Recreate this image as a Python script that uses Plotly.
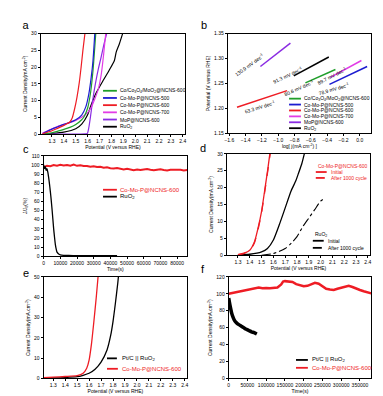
import plotly.graph_objects as go

W, H = 383, 396
FONT = "Arial, Liberation Sans, sans-serif"

GREEN = "#1f9e2a"
BLUE = "#1c1cd0"
RED = "#ee1c24"
MAGENTA = "#e23ce6"
PURPLE = "#8a2be2"
BLACK = "#000000"

# ---------------- panel a: LSV ----------------
a_green_x = [1.23, 1.30, 1.35, 1.40, 1.45, 1.50, 1.55, 1.57, 1.60, 1.625, 1.645, 1.668]
a_green_y = [0.0, 0.4, 0.9, 1.4, 2.0, 2.9, 4.3, 5.2, 7.8, 12.5, 19.0, 30.0]
a_blue_x = [1.23, 1.30, 1.35, 1.40, 1.45, 1.50, 1.55, 1.585, 1.61, 1.63, 1.645, 1.66]
a_blue_y = [0.3, 1.5, 2.2, 2.9, 3.5, 4.3, 5.7, 8.2, 12.0, 17.0, 22.0, 30.0]
a_red_x = [1.22, 1.30, 1.35, 1.40, 1.45, 1.47, 1.49, 1.51, 1.53, 1.545, 1.56, 1.577]
a_red_y = [0.1, 1.0, 1.8, 2.6, 3.6, 4.8, 7.5, 11.0, 15.5, 20.0, 25.0, 30.0]
a_mag_x = [1.22, 1.30, 1.35, 1.40, 1.45, 1.50, 1.55, 1.60, 1.63, 1.66, 1.69, 1.715, 1.735, 1.752]
a_mag_y = [0.3, 1.6, 2.3, 2.9, 3.4, 4.1, 5.0, 6.4, 8.0, 10.5, 13.5, 18.0, 24.0, 30.0]
a_pur_x = [1.22, 1.30, 1.40, 1.50, 1.58, 1.597, 1.61, 1.625, 1.64, 1.655, 1.67, 1.69, 1.71, 1.735, 1.76]
a_pur_y = [0.0, 0.0, 0.0, 0.0, 0.05, 0.2, 2.0, 5.5, 9.5, 13.0, 16.0, 19.5, 22.5, 26.5, 30.0]
a_blk_x = [1.22, 1.30, 1.40, 1.50, 1.55, 1.60, 1.63, 1.67, 1.73, 1.78, 1.825, 1.84, 1.867, 1.894]
a_blk_y = [0.0, 0.2, 0.6, 1.6, 3.0, 5.8, 8.8, 12.2, 16.0, 19.0, 22.0, 24.5, 27.0, 30.0]

a_names = ["Co/Co<sub>3</sub>O<sub>4</sub>/MoO<sub>2</sub>@NCNS-600", "Co-Mo-P@NCNS-500",
           "Co-Mo-P@NCNS-600", "Co-Mo-P@NCNS-700", "MoP@NCNS-600", "RuO<sub>2</sub>"]

# ---------------- panel b: Tafel ----------------
b_green_x = [-0.667, -0.299]; b_green_y = [1.251, 1.278]
b_blue_x = [-0.372, 0.09];   b_blue_y = [1.248, 1.284]
b_red_x = [-1.506, -0.892];  b_red_y = [1.202, 1.2355]
b_mag_x = [-0.36, 0.02];     b_mag_y = [1.262, 1.296]
b_pur_x = [-1.219, -0.851];  b_pur_y = [1.284, 1.331]
b_blk_x = [-0.81, -0.38];    b_blk_y = [1.265, 1.303]
b_slopes = ["130.9 mV dec<sup>-1</sup>", "91.3 mV dec<sup>-1</sup>", "80.6 mV dec<sup>-1</sup>",
            "89.7 mV dec<sup>-1</sup>", "78.9 mV dec<sup>-1</sup>", "63.3 mV dec<sup>-1</sup>"]

# ---------------- panel c: stability ----------------
c_red_t = [0, 2000, 4000, 6000, 8000, 10000, 12000, 14000, 16000, 18000, 20000, 22000, 24000,
           26000, 28000, 30000, 32000, 34000, 36000, 38000, 40000, 42000, 44000, 46000, 48000,
           50000, 52000, 54000, 56000, 58000, 60000, 62000, 64000, 66000, 68000, 70000, 72000,
           74000, 76000, 78000, 80000, 82000, 84000, 86000]
c_red_v = [97.5, 99.0, 98.6, 99.8, 99.2, 100.1, 99.4, 99.9, 99.1, 100.3, 99.0, 99.6, 98.7,
           98.9, 97.9, 98.4, 97.6, 97.9, 96.9, 97.3, 96.4, 96.0, 96.6, 95.5, 95.1,
           95.8, 94.8, 94.3, 95.0, 94.4, 94.9, 95.4, 94.6, 94.1, 94.8, 95.2, 94.5,
           94.0, 94.7, 94.9, 94.3, 94.6, 94.0, 94.4]
c_blk_t = [0, 500, 1000, 1500, 2000, 2500, 3000, 3500, 4000, 4500, 5000, 5500, 6000, 6500,
           7000, 7500, 8000, 9000, 10000, 12000, 15000, 20000, 30000, 44000]
c_blk_v = [100, 96, 98, 94, 96, 92, 86, 79, 71, 62, 52, 41, 30, 21,
           13, 8, 4.5, 2.5, 1.5, 1.0, 0.8, 0.6, 0.5, 0.5]

# ---------------- panel d: durability LSV ----------------
d_red_x = [1.30, 1.35, 1.40, 1.44, 1.47, 1.50, 1.53, 1.555, 1.57]
d_red_y = [0.2, 0.6, 1.5, 4.0, 8.0, 13.0, 20.0, 26.0, 30.0]
d_red2_x = [1.30, 1.35, 1.40, 1.44, 1.47, 1.50, 1.53, 1.555, 1.573]
d_red2_y = [0.2, 0.5, 1.3, 3.7, 7.6, 12.6, 19.5, 25.5, 30.0]
d_blk_x = [1.30, 1.40, 1.50, 1.55, 1.60, 1.65, 1.70, 1.75, 1.79, 1.81, 1.84, 1.862]
d_blk_y = [0.1, 0.3, 1.0, 2.0, 4.5, 9.0, 14.0, 19.0, 22.0, 24.0, 27.0, 30.0]
d_blk2_x = [1.50, 1.60, 1.70, 1.75, 1.80, 1.85, 1.90, 1.95, 2.00, 2.02]
d_blk2_y = [0.0, 0.5, 2.0, 3.5, 5.5, 8.5, 11.0, 13.5, 16.0, 16.5]

# ---------------- panel e: overall water splitting LSV ----------------
e_red_x = [1.22, 1.30, 1.40, 1.50, 1.55, 1.58, 1.60, 1.62, 1.64, 1.66, 1.675]
e_red_y = [0.3, 0.6, 0.9, 1.3, 2.5, 5.0, 9.0, 17.0, 28.0, 40.0, 50.0]
e_blk_x = [1.22, 1.30, 1.40, 1.50, 1.55, 1.60, 1.65, 1.70, 1.75, 1.78, 1.80, 1.82, 1.84, 1.845]
e_blk_y = [0.1, 0.2, 0.4, 0.8, 1.5, 2.5, 4.5, 8.0, 14.0, 21.0, 28.0, 37.0, 47.0, 50.0]

# ---------------- panel f: chronoamperometry ----------------
f_red_t = [0, 10000, 20000, 30000, 40000, 50000, 60000, 70000, 80000, 90000, 100000, 110000,
           120000, 130000, 140000, 145000, 150000, 160000, 170000, 180000, 190000, 200000,
           210000, 220000, 230000, 240000, 250000, 260000, 270000, 280000, 290000, 300000,
           310000, 320000, 330000, 340000, 350000, 360000, 370000, 380000]
f_red_v = [100.0, 101.0, 101.5, 102.5, 103.5, 105.0, 106.0, 107.0, 107.5, 106.5, 107.0, 106.5,
           106.8, 107.5, 111.0, 114.5, 115.0, 114.5, 114.0, 111.5, 110.0, 109.0,
           109.5, 111.0, 113.0, 112.0, 108.5, 106.0, 105.0, 104.5, 106.0, 107.0,
           108.5, 109.5, 108.0, 106.0, 104.5, 103.0, 101.5, 100.5]
f_blk_t = [0, 2000, 5000, 8000, 11000, 15000, 20000, 27000, 33000, 40000, 47000, 54000, 61000, 68000, 75000]
f_blk_v = [95, 90, 83, 77, 73, 69, 66, 63.5, 62, 60, 58, 56.5, 55, 54, 52.5]

legend_ef = ["Pt/C || RuO<sub>2</sub>", "Co-Mo-P@NCNS-600"]

# ---------------- layout helpers ----------------
panels = {  # pixel boxes: left, right, top, bottom
    "a": (30, 176, 23, 125),
    "b": (219, 364, 23, 124),
    "c": (33, 178, 147, 249),
    "d": (218, 363, 145, 248),
    "e": (33, 178, 270, 373),
    "f": (220, 364, 270, 373),
}


def px(x):
    return x / W


def py(y):
    return 1 - y / H


fig = go.Figure()
shapes = []
annotations = []

axis_ids = {"a": "", "b": "2", "c": "3", "d": "4", "e": "5", "f": "6"}


def add_line(panel, x, y, color, width=1.2, dash="solid", name=None, shape="spline"):
    i = axis_ids[panel]
    line = dict(color=color, width=width, dash=dash, shape=shape)
    if shape == "spline":
        line["smoothing"] = 0.6
    fig.add_trace(go.Scatter(x=x, y=y, mode="lines", name=name, showlegend=False, line=line,
                             xaxis="x" + i, yaxis="y" + i, hoverinfo="skip"))


def key(x0, x1, y, color, text, textcolor="black", dash="solid", width=1.8, tx=None, size=5):
    if x1 > x0:
        shapes.append(dict(type="line", xref="paper", yref="paper", x0=px(x0), x1=px(x1),
                           y0=py(y), y1=py(y), line=dict(color=color, width=width, dash=dash)))
    annotations.append(dict(text=text, x=px(tx if tx is not None else x1 + 2), y=py(y),
                            xref="paper", yref="paper", showarrow=False, xanchor="left",
                            yanchor="middle", font=dict(size=size, color=textcolor, family=FONT)))


# panel a
for xs, ys, c in [(a_blk_x, a_blk_y, BLACK), (a_pur_x, a_pur_y, PURPLE), (a_mag_x, a_mag_y, MAGENTA),
                  (a_green_x, a_green_y, GREEN), (a_blue_x, a_blue_y, BLUE), (a_red_x, a_red_y, RED)]:
    add_line("a", xs, ys, c, 1.2)
for k, (nm, c) in enumerate(zip(a_names, [GREEN, BLUE, RED, MAGENTA, PURPLE, BLACK])):
    key(93, 107, 81 + 7.3 * k, c, nm, tx=108, size=5)

# panel b
for xs, ys, c in [(b_pur_x, b_pur_y, PURPLE), (b_blk_x, b_blk_y, BLACK), (b_green_x, b_green_y, GREEN),
                  (b_mag_x, b_mag_y, MAGENTA), (b_blue_x, b_blue_y, BLUE), (b_red_x, b_red_y, RED)]:
    add_line("b", xs, ys, c, 1.5, shape="linear")
for k, (nm, c) in enumerate(zip(a_names, [GREEN, BLUE, RED, MAGENTA, PURPLE, BLACK])):
    key(281, 293, 89 + 6.0 * k, c, nm, tx=294, size=5)
slope_pos = [(259, 39, -36), (298, 53, -25), (309, 66, -24), (342, 53, -27), (344, 69, -16), (251, 87, -17)]
for txt, (sx, sy, ang) in zip(b_slopes, slope_pos):
    annotations.append(dict(text=txt, x=px(sx), y=py(sy), xref="paper", yref="paper", showarrow=False,
                            textangle=ang, font=dict(size=5, color="black", family=FONT)))

# panel c
add_line("c", c_red_t, c_red_v, RED, 2.0, shape="linear")
add_line("c", c_blk_t, c_blk_v, BLACK, 1.3, shape="spline")
key(93, 107, 181.5, RED, "Co-Mo-P@NCNS-600", textcolor=RED, tx=108, size=6)
key(93, 107, 188.5, BLACK, "RuO<sub>2</sub>", tx=108, size=6)

# panel d
add_line("d", d_blk2_x, d_blk2_y, BLACK, 1.1, dash="dashdot")
add_line("d", d_blk_x, d_blk_y, BLACK, 1.3)
add_line("d", d_red_x, d_red_y, RED, 1.3)
add_line("d", d_red2_x, d_red2_y, RED, 1.3, dash="dash")
key(308, 308, 157.7, RED, "Co-Mo-P@NCNS-600", textcolor=RED, tx=308)
key(308, 319, 163.5, RED, "Initial", textcolor=RED, tx=321)
key(308, 319, 169.5, RED, "After 1000 cycle", textcolor=RED, dash="dash", tx=321)
key(305, 305, 226.7, BLACK, "RuO<sub>2</sub>", tx=305)
key(305, 316, 233.3, BLACK, "Initial", tx=318)
key(305, 316, 240.5, BLACK, "After 1000 cycle", dash="dashdot", tx=318)

# panel e
add_line("e", e_blk_x, e_blk_y, BLACK, 1.3)
add_line("e", e_red_x, e_red_y, RED, 1.3)
key(97, 107, 352.7, BLACK, legend_ef[0], tx=110, size=6)
key(97, 108, 363.3, RED, legend_ef[1], textcolor=RED, tx=110, size=6)

# panel f
add_line("f", f_red_t, f_red_v, RED, 2.5, shape="linear")
add_line("f", f_blk_t, f_blk_v, BLACK, 3.5, shape="spline")
key(288, 300, 354.3, BLACK, legend_ef[0], tx=302, size=6)
key(288, 300, 362.3, RED, legend_ef[1], textcolor=RED, tx=302, size=6)

# panel letters (explicit box size)
for letter, (lx, ly) in {"a": (15, 14), "b": (195, 14), "c": (15, 140), "d": (194, 139),
                         "e": (15, 266), "f": (194, 262)}.items():
    annotations.append(dict(text=letter, x=px(lx), y=py(ly), xref="paper", yref="paper", showarrow=False,
                            xanchor="center", yanchor="middle", width=10, height=14, align="center",
                            font=dict(size=11, color="black", family=FONT)))

axcfg = {
    "a": dict(x=dict(range=[1.205, 2.42], tick0=1.3, dtick=0.1, tickformat=".1f", title="Potential (V versus RHE)"),
              y=dict(range=[0, 30], dtick=5, title="Current Density(mA cm<sup>-2</sup>)")),
    "b": dict(x=dict(range=[-1.62, 0.14], tick0=-1.6, dtick=0.2, tickformat=".1f",
                     title="log[ j(mA cm<sup>-2</sup>) ]"),
              y=dict(range=[1.15, 1.35], dtick=0.05, tickformat=".2f", title="Potential (V versus RHE)")),
    "c": dict(x=dict(range=[0, 86000], dtick=10000, tickformat="d", title="Time(s)"),
              y=dict(range=[0, 110], dtick=10, title="J/J<sub>0</sub>(%)")),
    "d": dict(x=dict(range=[1.205, 2.42], tick0=1.3, dtick=0.1, tickformat=".1f", title="Potential (V versus RHE)"),
              y=dict(range=[0, 30], dtick=5, title="Current Density(mA.cm<sup>-2</sup>)")),
    "e": dict(x=dict(range=[1.22, 2.42], tick0=1.3, dtick=0.1, tickformat=".1f", title="Potential (V versus RHE)"),
              y=dict(range=[0, 50], dtick=10, title="Current Density(mA.cm<sup>-2</sup>)")),
    "f": dict(x=dict(range=[0, 380000], dtick=50000, tickformat="d", title="Time(s)"),
              y=dict(range=[0, 120], dtick=20, title="Current Density(mA.cm<sup>-2</sup>)")),
}

layout_axes = {}
for p, (l, r, t, b) in panels.items():
    i = axis_ids[p]
    common = dict(showline=True, linecolor="black", linewidth=1, mirror=True, ticks="outside",
                  ticklen=2, tickwidth=0.8, tickcolor="black", showgrid=False, zeroline=False,
                  tickangle=0, tickfont=dict(size=5, color="black", family=FONT))
    xc = dict(common)
    xc.update(axcfg[p]["x"])
    xc["title"] = dict(text=xc["title"], font=dict(size=5, color="black", family=FONT), standoff=2)
    xc["domain"] = [px(l), px(r)]
    xc["anchor"] = "y" + i
    yc = dict(common)
    yc.update(axcfg[p]["y"])
    yc["title"] = dict(text=yc["title"], font=dict(size=5, color="black", family=FONT), standoff=3)
    yc["domain"] = [py(b), py(t)]
    yc["anchor"] = "x" + i
    layout_axes["xaxis" + i] = xc
    layout_axes["yaxis" + i] = yc

fig.update_layout(width=W, height=H, margin=dict(l=0, r=0, t=0, b=0), paper_bgcolor="white",
                  plot_bgcolor="white", showlegend=False, font=dict(family=FONT, size=5, color="black"),
                  shapes=shapes, annotations=annotations, **layout_axes)

fig.write_html("out.html")
